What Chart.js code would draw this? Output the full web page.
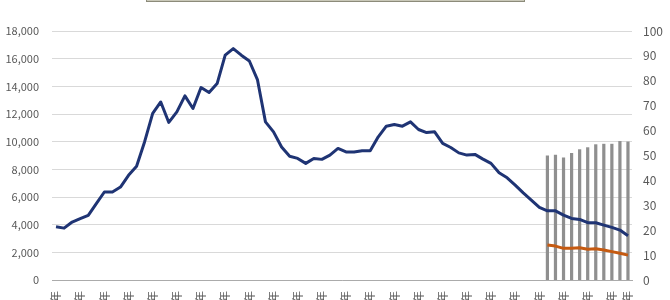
<!DOCTYPE html>
<html>
<head>
<meta charset="utf-8">
<script src="https://cdn.jsdelivr.net/npm/chart.js@4/dist/chart.umd.min.js"></script>
<style>
  html, body { margin: 0; padding: 0; background: #fff; overflow: hidden; }
  #wrap { position: relative; width: 670px; height: 300px; }
  #topbox {
    position: absolute; left: 146px; top: -20px; width: 377px; height: 20px;
    border: 1px solid #8c8b7a; box-shadow: inset 0 -1px 0 #c9c8b8;
  }
</style>
</head>
<body>
<div id="wrap">
  <canvas id="chart" width="670" height="300"></canvas>
  <div id="topbox"></div>
</div>
<script>
// 年次ラベル (1969年〜2040年)
const years = [];
for (let y = 1969; y <= 2040; y++) years.push(y + '年');

// 総数（左軸）
const totalValues = [
  3850, 3750, 4190, 4430, 4670, 5520, 6360, 6360, 6720, 7570,
  8220, 10000, 12040, 12870, 11390, 12150, 13310, 12400, 13910, 13550,
  14200, 16250, 16730, 16250, 15830, 14490, 11430, 10710, 9620, 8950,
  8790, 8430, 8790, 8720, 9030, 9510, 9260, 9260, 9340, 9340,
  10350, 11120, 11240, 11120, 11430, 10880, 10660, 10710, 9870, 9580,
  9190, 9030, 9080, 8740, 8430, 7750, 7390, 6860, 6300, 5780,
  5250, 5000, 5000, 4690, 4450, 4380, 4140, 4140, 3970, 3800,
  3610, 3200
];

// 推計期間（2030年〜2040年）
const projStart = 61;
const subValues = [2530, 2450, 2290, 2290, 2330, 2220, 2260, 2170, 2050, 1930, 1800];
const ratioValues = [50, 50.3, 49.2, 51, 52.5, 53.3, 54.5, 54.7, 54.7, 55.8, 55.6];

const leftTicks = { min: 0, max: 18000, step: 2000 };
const rightTicks = { min: 0, max: 100, step: 10 };

const pad = arr => Array(projStart).fill(null).concat(arr);

const ctx = document.getElementById('chart');

new Chart(ctx, {
  type: 'bar',
  data: {
    labels: years,
    datasets: [{
        type: 'line',
        label: '総数',
        data: totalValues,
        borderColor: '#1f3474',
        borderWidth: 3,
        pointRadius: 0,
        tension: 0,
        borderJoinStyle: 'round',
        yAxisID: 'y',
        order: 1
      },
      {
        type: 'line',
        label: '内数',
        data: pad(subValues),
        borderColor: '#c55a11',
        borderWidth: 3,
        pointRadius: 0,
        tension: 0,
        borderJoinStyle: 'round',
        yAxisID: 'y',
        order: 2
      },
      {
        label: '割合',
        data: pad(ratioValues),
        backgroundColor: '#8f8f8f',
        barPercentage: 0.4,
        categoryPercentage: 1,
        yAxisID: 'y1',
        order: 3
      }]
  },
  options: {
    responsive: false,
    animation: false,
    devicePixelRatio: 1,
    layout: { padding: { top: 31, left: 0, right: 0, bottom: 0 } },
    plugins: {
      legend: { display: false },
      tooltip: { enabled: false }
    },
    scales: {
      x: {
        grid: { display: false, drawTicks: false },
        border: { display: true, color: '#ababab', width: 1 },
        ticks: {
          autoSkip: false,
          minRotation: 90,
          maxRotation: 90,
          padding: 11,
          color: '#595959',
          font: { size: 11, family: "'Noto Sans CJK JP', 'Noto Sans', sans-serif" },
          callback: function (val, i) {
            return (i % 3 === 0 || i === years.length - 1) ? years[i] : '';
          }
        },
        afterFit: function (scale) { scale.height = 20; }
      },
      y: {
        position: 'left',
        min: leftTicks.min,
        max: leftTicks.max,
        grid: { color: '#d9d9d9', drawTicks: false },
        border: { display: false },
        ticks: {
          stepSize: leftTicks.step,
          padding: 13,
          color: '#595959',
          font: { size: 11, family: "'Noto Sans CJK JP', 'Noto Sans', sans-serif" },
          callback: v => v.toLocaleString('en-US')
        },
        afterFit: function (scale) { scale.width = 52; }
      },
      y1: {
        position: 'right',
        min: rightTicks.min,
        max: rightTicks.max,
        grid: { display: false, drawTicks: false },
        border: { display: false },
        ticks: {
          stepSize: rightTicks.step,
          padding: 11,
          color: '#595959',
          font: { size: 12, family: "'Noto Sans CJK JP', 'Noto Sans', sans-serif" }
        },
        afterFit: function (scale) { scale.width = 38; }
      }
    }
  }
});
</script>
</body>
</html>
